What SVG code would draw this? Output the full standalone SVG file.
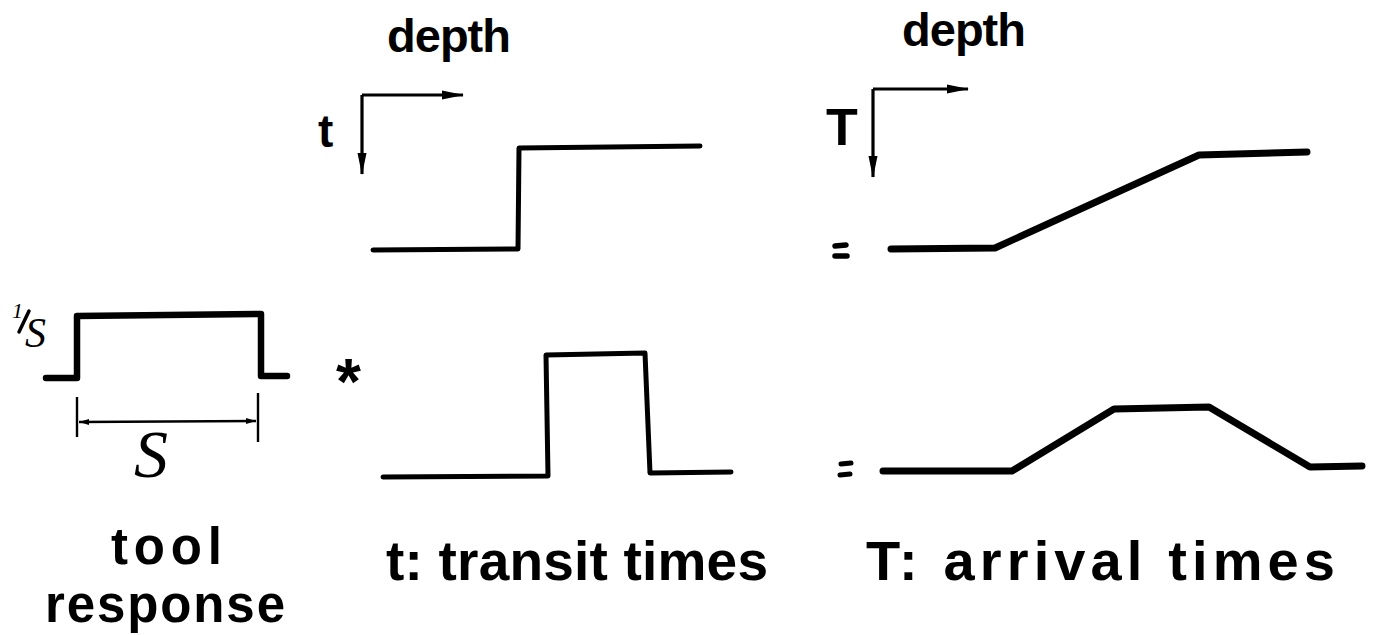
<svg xmlns="http://www.w3.org/2000/svg" width="1377" height="635" viewBox="0 0 1377 635">
  <style>
    .lbl { font-family: "Liberation Sans", Arial, sans-serif; font-weight: bold; fill: #000; }
    .hand { font-family: "Liberation Serif", "Times New Roman", serif; font-style: italic; fill: #000; }
    .curve { fill: none; stroke: #000; stroke-linejoin: round; stroke-linecap: round; }
    .axis { fill: none; stroke: #000; stroke-width: 3.2; }
    .dim { fill: none; stroke: #000; stroke-width: 2.4; }
  </style>
  <defs>
    <marker id="axhead" viewBox="0 0 22 11" refX="21" refY="5.5" markerWidth="22" markerHeight="11" markerUnits="userSpaceOnUse" orient="auto">
      <path d="M0,1 L22,5.5 L0,10 Z" fill="#000"/>
    </marker>
    <marker id="dimhead" viewBox="0 0 10 8" refX="10" refY="4" markerWidth="10" markerHeight="8" markerUnits="userSpaceOnUse" orient="auto-start-reverse">
      <path d="M0,1 L10,4 L0,7 Z" fill="#000"/>
    </marker>
  </defs>

  <!-- axis labels -->
  <g id="depth-label-left"><text class="lbl" x="387" y="52" font-size="47" textLength="124" lengthAdjust="spacing">depth</text></g>
  <g id="depth-label-right"><text class="lbl" x="902" y="46" font-size="47" textLength="124" lengthAdjust="spacing">depth</text></g>
  <g id="t-label"><text class="lbl" x="318" y="147" font-size="46">t</text></g>
  <g id="T-label"><text class="lbl" x="826" y="145" font-size="52">T</text></g>

  <!-- coordinate axes -->
  <g id="connectors">
    <path class="axis" d="M362,95 L463,95" marker-end="url(#axhead)"/>
    <path class="axis" d="M362,95 L362,174" marker-end="url(#axhead)"/>
    <path class="axis" d="M873,89 L968,89" marker-end="url(#axhead)"/>
    <path class="axis" d="M873,89 L873,177" marker-end="url(#axhead)"/>
    <!-- width dimension of the tool response -->
    <path class="dim" d="M77,397 L77,437"/>
    <path class="dim" d="M258,393 L258,442"/>
    <path class="dim" d="M79,422 L256,421" marker-start="url(#dimhead)" marker-end="url(#dimhead)"/>
  </g>

  <!-- tool response: boxcar of height 1/S and width S -->
  <g id="tool-response">
    <path class="curve" stroke-width="6.5" d="M46,378 L77,378 L77,316 L261,314 L261,376 L287,376"/>
    <text class="hand" x="12" y="318" font-size="22">1</text>
    <path fill="none" stroke="#000" stroke-width="3.5" stroke-linecap="round" d="M19,332 L29,311"/>
    <text class="hand" x="25" y="347" font-size="42">S</text>
    <text class="hand" x="134" y="477" font-size="68">S</text>
  </g>

  <!-- convolution operator -->
  <g id="convolve"><text class="lbl" x="336" y="404" font-size="64">*</text></g>

  <!-- transit time step -->
  <g id="transit-step">
    <path class="curve" stroke-width="5" d="M373,250 L518,249 L519,148 L700,146"/>
  </g>

  <!-- transit time pulse -->
  <g id="transit-pulse">
    <path class="curve" stroke-width="5" d="M383,477 L548,476 L546,355 L645,353 L650,473 L731,472"/>
  </g>

  <!-- equals signs -->
  <g id="equals-top">
    <path class="curve" stroke-width="5.5" d="M835,246 L846,245 M835,256 L847,256"/>
  </g>
  <g id="equals-bottom">
    <path class="curve" stroke-width="5" d="M841,464 L851,463 M840,475 L850,474"/>
  </g>

  <!-- arrival time ramp -->
  <g id="arrival-ramp">
    <path class="curve" stroke-width="7" d="M891,249 L995,248 L1199,155 L1307,152"/>
  </g>

  <!-- arrival time trapezoid -->
  <g id="arrival-trapezoid">
    <path class="curve" stroke-width="7" d="M883,471 L1012,471 L1114,409 L1209,407 L1310,467 L1362,466"/>
  </g>

  <!-- captions -->
  <g id="caption-tool">
    <text class="lbl" x="111" y="564" font-size="51" textLength="111" lengthAdjust="spacing">tool</text>
    <text class="lbl" x="45" y="622" font-size="51" textLength="240" lengthAdjust="spacing">response</text>
  </g>
  <g id="caption-transit">
    <text class="lbl" x="386" y="580" font-size="55" textLength="382" lengthAdjust="spacing">t: transit times</text>
  </g>
  <g id="caption-arrival">
    <text class="lbl" x="866" y="580" font-size="56" textLength="469" lengthAdjust="spacing">T: arrival times</text>
  </g>
</svg>
